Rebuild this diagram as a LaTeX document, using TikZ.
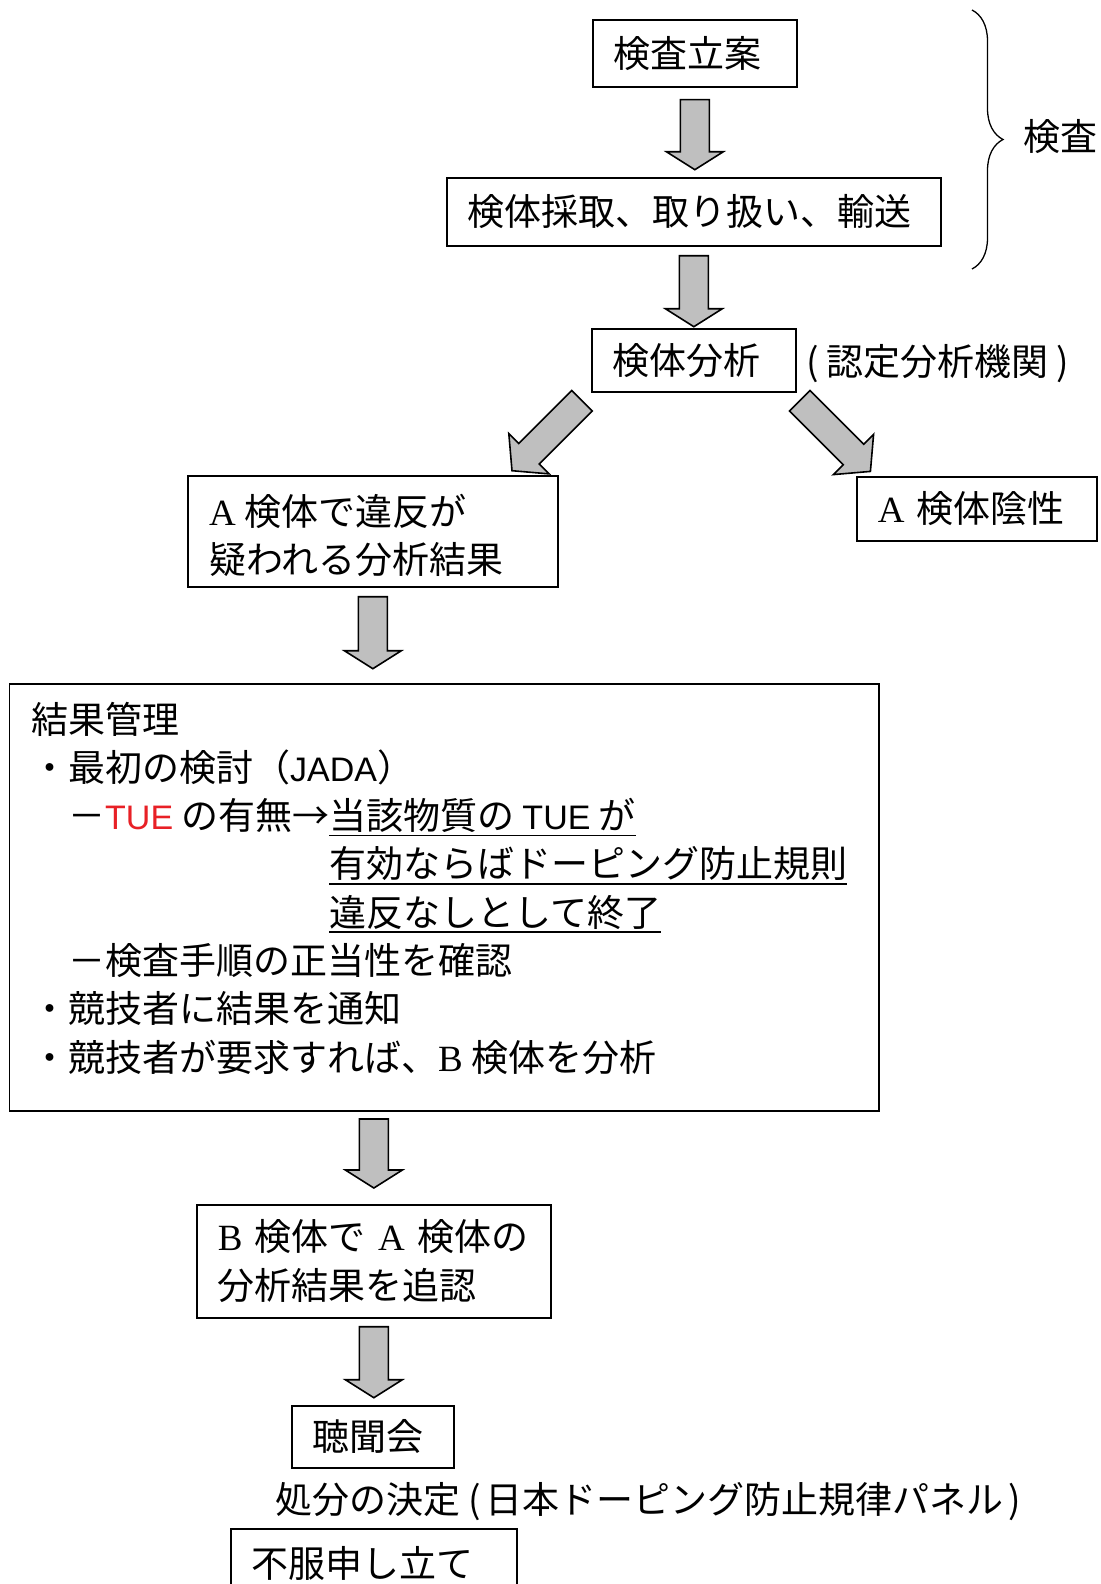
\documentclass[tikz,border=0pt]{standalone}
\usepackage{fontspec}
\setmainfont{Noto Sans CJK JP}
\newfontfamily\lserif{Liberation Serif}
\newfontfamily\lsans{Liberation Sans}
\usetikzlibrary{calc,decorations.pathreplacing}
\definecolor{arrowgray}{RGB}{191,191,191}
\definecolor{tuered}{RGB}{232,32,38}
\newcommand\figfont{\fontsize{37pt}{49pt}\selectfont}
\newcommand\sansfig{\lsans\fontsize{34pt}{49pt}\selectfont}
\newcommand\fatarrow[4]{%
  \begin{scope}[shift={#1},rotate=#2]
    \draw[blockarrow] (0,-14.5) -- ({#3-#4},-14.5) -- ({#3-#4},-28.5) -- (#3,0)
      -- ({#3-#4},28.5) -- ({#3-#4},14.5) -- (0,14.5) -- cycle;
  \end{scope}}
\begin{document}
\begin{tikzpicture}[x=1pt,y=-1pt,
  box/.style={draw, line width=1.7pt, anchor=north west, inner xsep=21pt,
    inner ysep=0pt, align=left, font=\figfont},
  frame/.style={draw, line width=1.7pt, anchor=north west, inner sep=0pt},
  txt/.style={inner sep=0pt, font=\figfont},
  blockarrow/.style={draw=black, fill=arrowgray, line width=1.6pt, line join=miter},
  uline/.style={line width=1.7pt},
  bracestyle/.style={line width=1.3pt, decorate, decoration={brace, amplitude=31pt}}]
\useasboundingbox (0,0) rectangle (1100,1584);
\clip (0,0) rectangle (1100,1584);
\fill[white] (0,0) rectangle (1100,1584);

% top part
\node[box, text width=162pt, minimum height=67pt] (plan) at (592,19) {検査立案};
\node[box, text width=452pt, minimum height=68pt] (collect) at (446,177) {検体採取、取り扱い、輸送};
\node[box, text width=162pt, minimum height=63pt] (analyze) at (591,328) {検体分析};
\node[txt, anchor=west] (lab) at (806,364) {(\hspace{8pt}認定分析機関\hspace{8pt})};
\draw[bracestyle] (972,10) -- (972,269);
\node[txt, anchor=west] (kensa) at (1023,137) {検査};

\fatarrow{($(plan.south)+(0,12)$)}{-90}{70}{18}
\fatarrow{($(collect.south)+(0,9)$)}{-90}{71}{18}

% branch
\node[frame, minimum width=370pt, minimum height=111pt] (boxa) at (187,475) {};
\node[txt, anchor=base west] (a1) at (209,525) {{\lserif A} 検体で違反が};
\node[txt, anchor=base west] (a2) at (209,573) {疑われる分析結果};
\node[box, text width=198pt, minimum height=64pt] (neg) at (856,476) {{\lserif A} 検体陰性};
\fatarrow{($(analyze.south west)+(-9,8)$)}{-135}{99}{24}
\fatarrow{($(analyze.south east)+(3,8)$)}{-45}{100}{24}
\fatarrow{($(boxa.south)+(0,9)$)}{-90}{72}{18}

% results management
\node[frame, minimum width=869.5pt, minimum height=427pt] (rm) at (8.5,683) {};
\node[txt, anchor=base west] (r1) at (31,733) {結果管理};
\node[txt, anchor=base west] (r2) at (31,781.3) {・最初の検討（{\sansfig JADA}）};
\node[txt, anchor=base west] (r3) at (31,829.6)
  {\hspace*{37pt}－{\sansfig\color{tuered}TUE} の有無→};
\node[txt, anchor=base west] (u1) at (329,829.6) {当該物質の {\sansfig TUE} が};
\node[txt, anchor=base west] (u2) at (329,877.9) {有効ならばドーピング防止規則};
\node[txt, anchor=base west] (u3) at (329,926.2) {違反なしとして終了};
\node[txt, anchor=base west] (r6) at (31,974.5) {\hspace*{37pt}－検査手順の正当性を確認};
\node[txt, anchor=base west] (r7) at (31,1022.8) {・競技者に結果を通知};
\node[txt, anchor=base west] (r8) at (31,1071.1) {・競技者が要求すれば、{\lserif B} 検体を分析};
\foreach \u in {u1,u2,u3}
  \draw[uline] ([yshift=-6pt]\u.base west) -- ([yshift=-6pt]\u.base east);

% lower part
\node[box, text width=312pt, minimum height=113pt] (boxb) at (196,1204)
  {{\lserif B} 検体で {\lserif A} 検体の\\分析結果を追認};
\fatarrow{($(boxb.north)+(0,-85)$)}{-90}{69}{18}
\node[box, text width=120pt, minimum height=62pt] (hear) at (291,1405) {聴聞会};
\fatarrow{($(boxb.south)+(0,8)$)}{-90}{71}{18}
\node[txt, anchor=west] (dec) at (275,1502)
  {処分の決定 (\hspace{5pt}日本ドーピング防止規律パネル\hspace{5pt})};
\node[box, text width=244pt, minimum height=70pt] (appeal) at (230,1528) {不服申し立て};
\end{tikzpicture}
\end{document}
